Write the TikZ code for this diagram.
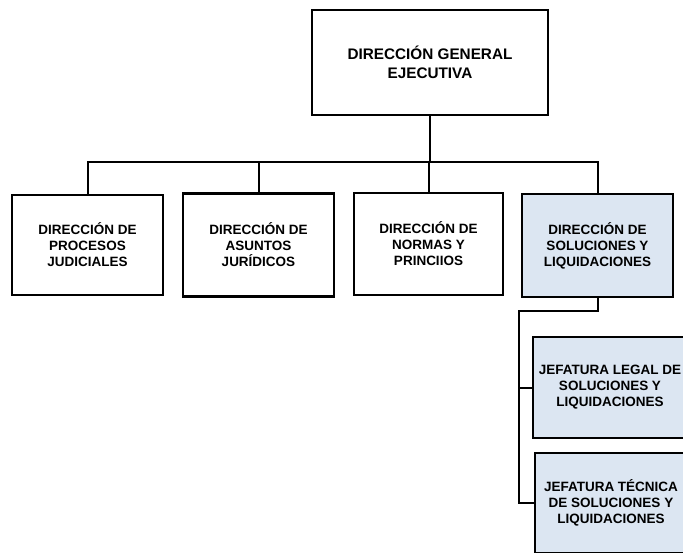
\documentclass[tikz,border=0pt]{standalone}
\usepackage{fontspec}
\setmainfont{Liberation Sans}
\definecolor{lightblue}{HTML}{DCE6F2}
\begin{document}
\begin{tikzpicture}[x=1pt,y=-1pt,
  orgbox/.style={draw, line width=2.2pt, align=center, inner sep=0pt,
    font=\bfseries\fontsize{13.5}{16}\selectfont},
  conn/.style={line width=2pt}]
\useasboundingbox (0,0) rectangle (683,552);
\clip (0,0) rectangle (683,552);
\node[orgbox, minimum width=236pt, minimum height=105pt,
  font=\bfseries\fontsize{15.3}{19}\selectfont] (top) at (430,62.5)
  {DIRECCIÓN GENERAL\\EJECUTIVA};
\node[orgbox, minimum width=151pt, minimum height=100pt] (b1) at (87.5,245)
  {DIRECCIÓN DE\\PROCESOS\\JUDICIALES};
\node[orgbox, minimum width=151pt, minimum height=103pt] (b2) at (258.5,245)
  {DIRECCIÓN DE\\ASUNTOS\\JURÍDICOS};
\node[orgbox, minimum width=149pt, minimum height=102pt] (b3) at (428.5,244)
  {DIRECCIÓN DE\\NORMAS Y\\PRINCIIOS};
\node[orgbox, fill=lightblue, minimum width=151pt, minimum height=103pt] (b4) at (597.5,245.5)
  {DIRECCIÓN DE\\SOLUCIONES Y\\LIQUIDACIONES};
\node[orgbox, fill=lightblue, minimum width=154pt, minimum height=101pt] (b5) at (610,387.5)
  {JEFATURA LEGAL DE\\SOLUCIONES Y\\LIQUIDACIONES};
\node[orgbox, fill=lightblue, minimum width=152pt, minimum height=100pt] (b6) at (611,503)
  {JEFATURA TÉCNICA\\DE SOLUCIONES Y\\LIQUIDACIONES};
\coordinate (bus) at (0,162);
\coordinate (j) at (519,311);
\draw[conn] (top.south) -- (top.south |- bus);
\draw[conn] (b1.north) -- (b1.north |- bus) -- (b4.north |- bus) -- (b4.north);
\draw[conn] (b2.north) -- (b2.north |- bus);
\draw[conn] (b3.north) -- (b3.north |- bus);
\draw[conn] (b4.south) |- (j) -- (j |- b6.west) -- (b6.west);
\draw[conn] (j |- b5.west) -- (b5.west);
\end{tikzpicture}
\end{document}
